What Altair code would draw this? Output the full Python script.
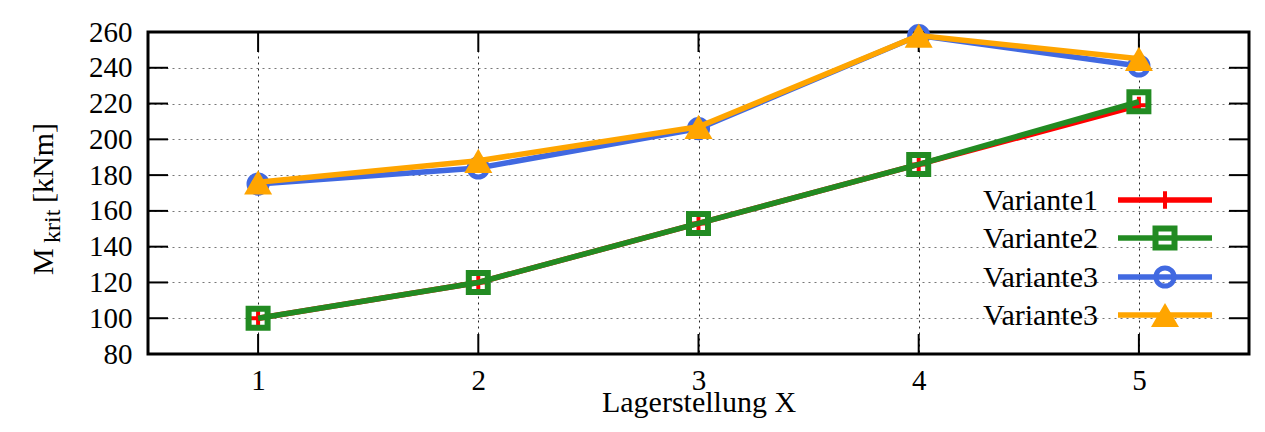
import altair as alt
import pandas as pd

# ---- data ----
positions = [1, 2, 3, 4, 5]
variante1 = [100, 120, 153, 186, 219]
variante2 = [100, 120, 153, 186, 221]
variante3a = [175, 184, 206, 258, 241]
variante3b = [176, 188, 207, 258, 245]
series_labels = ["Variante1", "Variante2", "Variante3", "Variante3"]
y_tick_values = [80, 100, 120, 140, 160, 180, 200, 220, 240, 260]
x_tick_values = [1, 2, 3, 4, 5]

FONT = "Liberation Serif, Times New Roman, Times, serif"
W, H = 1101, 322
colors = ["#ff0000", "#228b22", "#4169e1", "#ffa500"]
PLUS = "M-1,0H1M0,-1V1"
marker_styles = [
    dict(shape=PLUS, filled=False, size=300, strokeWidth=4),
    dict(shape="square", filled=False, size=361, strokeWidth=6),
    dict(shape="circle", filled=False, size=330, strokeWidth=5),
    dict(shape="triangle-up", filled=True, size=784, strokeWidth=0),
]
all_series = [variante1, variante2, variante3a, variante3b]

x_scale = alt.Scale(domain=[0.5, 5.5], nice=False, zero=False)
y_scale = alt.Scale(domain=[80, 260], nice=False, zero=False)
x_axis = alt.Axis(values=x_tick_values, format="d", ticks=False, domain=False,
                  grid=True, gridColor="#222222", gridDash=[2, 4], gridWidth=1,
                  labelFont=FONT, labelFontSize=29, labelColor="black", labelPadding=12,
                  title="Lagerstellung X", titleFont=FONT, titleFontSize=30,
                  titleFontWeight="normal", titleColor="black",
                  titleBaseline="alphabetic", titleY=57)
y_axis = alt.Axis(values=y_tick_values, format="d", ticks=False, domain=False,
                  grid=True, gridColor="#777777", gridDash=[2, 4], gridWidth=1,
                  labelFont=FONT, labelFontSize=29, labelColor="black", labelPadding=16,
                  title="")

X = alt.X("x:Q", scale=x_scale, axis=x_axis)
Y = alt.Y("y:Q", scale=y_scale, axis=y_axis)

layers = []

# inner tick marks (gnuplot style)
yt = pd.DataFrame({"y": y_tick_values})
xt = pd.DataFrame({"x": x_tick_values})
layers.append(alt.Chart(yt).mark_rule(color="black", strokeWidth=2).encode(
    y=Y, x=alt.value(0), x2=alt.value(20)))
layers.append(alt.Chart(yt).mark_rule(color="black", strokeWidth=2).encode(
    y=Y, x=alt.value(W - 20), x2=alt.value(W)))
layers.append(alt.Chart(xt).mark_rule(color="black", strokeWidth=2).encode(
    x=X, y=alt.value(H - 20), y2=alt.value(H)))
layers.append(alt.Chart(xt).mark_rule(color="black", strokeWidth=2).encode(
    x=X, y=alt.value(0), y2=alt.value(20)))

# plot border
layers.append(alt.Chart(pd.DataFrame({"b": [0]})).mark_rect(
    filled=False, stroke="black", strokeWidth=3, fillOpacity=0).encode(
    x=alt.value(0), x2=alt.value(W), y=alt.value(0), y2=alt.value(H)))

# series
for i, vals in enumerate(all_series):
    df = pd.DataFrame({"x": positions, "y": vals})
    base = alt.Chart(df)
    layers.append(base.mark_line(color=colors[i], strokeWidth=5.5).encode(x=X, y=Y))
    st = marker_styles[i]
    layers.append(base.mark_point(color=colors[i], opacity=1, **st).encode(x=X, y=Y))

# legend (text right-aligned, then line sample with marker)
legend_rows_y = [168, 206, 245, 283]
for i, lab in enumerate(series_labels):
    ldf = pd.DataFrame({"label": [lab]})
    lb = alt.Chart(ldf)
    ly = legend_rows_y[i]
    layers.append(lb.mark_text(font=FONT, fontSize=30, align="right", baseline="middle",
                               color="black").encode(
        text="label:N", x=alt.value(950), y=alt.value(ly + 1)))
    layers.append(lb.mark_rule(color=colors[i], strokeWidth=5.5).encode(
        x=alt.value(970), x2=alt.value(1064), y=alt.value(ly), detail="label:N"))
    layers.append(lb.mark_point(color=colors[i], opacity=1, **marker_styles[i]).encode(
        x=alt.value(1017), y=alt.value(ly), detail="label:N"))

# y axis title: M_krit [kNm]
layers.append(alt.Chart(pd.DataFrame({"t": ["M"]})).mark_text(
    font=FONT, fontSize=30, angle=270, align="left", baseline="alphabetic", color="black"
).encode(text="t:N", x=alt.value(-95), y=alt.value(243)))
layers.append(alt.Chart(pd.DataFrame({"t": ["krit"]})).mark_text(
    font=FONT, fontSize=24, angle=270, align="left", baseline="alphabetic", color="black"
).encode(text="t:N", x=alt.value(-88), y=alt.value(211)))
layers.append(alt.Chart(pd.DataFrame({"t": ["[kNm]"]})).mark_text(
    font=FONT, fontSize=30, angle=270, align="left", baseline="alphabetic", color="black"
).encode(text="t:N", x=alt.value(-95), y=alt.value(171)))

chart = alt.layer(*layers).properties(
    width=W, height=H,
    autosize=alt.AutoSizeParams(type="none"),
    padding={"left": 140, "top": 24, "right": 8, "bottom": 70},
).configure_view(strokeWidth=0).configure(background="white")

chart.save("out.html", embed_options={"renderer": "svg", "actions": False})
